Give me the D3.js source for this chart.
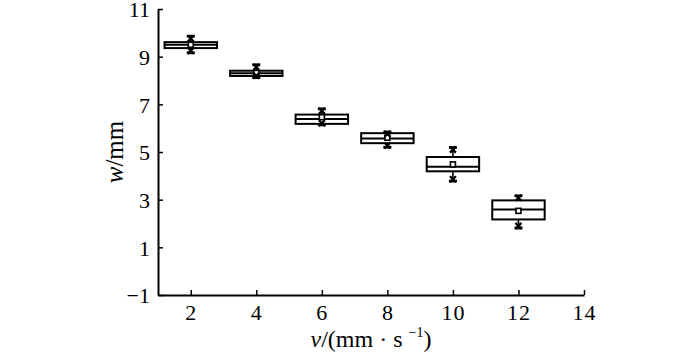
<!DOCTYPE html>
<html>
<head>
<meta charset="utf-8">
<script src="https://cdn.jsdelivr.net/npm/d3@7"></script>
<style>
  body { margin: 0; background: #fff; }
  text { font-family: "Liberation Serif", "Times New Roman", serif; fill: #000; }
</style>
</head>
<body>
<svg id="chart" width="700" height="353"></svg>
<script>
// speed v (mm/s) and groove width w (mm) box stats
const speeds = [2, 4, 6, 8, 10, 12];
const q1 = [9.36, 8.19, 6.18, 5.37, 4.19, 2.17];
const q3 = [9.61, 8.41, 6.57, 5.79, 4.79, 2.97];
const medians = [9.50, 8.30, 6.38, 5.57, 4.38, 2.59];
const means = [9.50, 8.32, 6.46, 5.60, 4.48, 2.53];
const maxs = [9.86, 8.66, 6.81, 5.84, 5.19, 3.16];
const mins = [9.16, 8.12, 6.14, 5.20, 3.78, 1.81];
const p99 = [9.76, 8.57, 6.73, 5.76, 5.10, 3.08];
const p1 = [9.25, 8.20, 6.21, 5.27, 3.86, 1.90];
const xTicks = [2, 4, 6, 8, 10, 12, 14];
const yTicks = [-1, 1, 3, 5, 7, 9, 11];

let svg = d3.select('#chart');
let plot_left = 158, plot_right = 584, plot_top = 9, plot_bottom = 295;
let box_half = 0.8;
let tick_len = 5;

var x = d3.scaleLinear().domain([1, 14]).range([plot_left, plot_right]);
var y = d3.scaleLinear().domain([-1, 11]).range([plot_bottom, plot_top]);

let data = speeds.map((v, i) => ({
    v: v, q1: q1[i], q3: q3[i], med: medians[i], mean: means[i],
    max: maxs[i], min: mins[i], p99: p99[i], p1: p1[i]
}));

// axes
let xAxis = d3.axisBottom(x).tickValues(xTicks).tickSizeInner(-tick_len).tickSizeOuter(0).tickPadding(10)
    .tickFormat(d => d);
let yAxis = d3.axisLeft(y).tickValues(yTicks).tickSizeInner(-tick_len).tickSizeOuter(0).tickPadding(8)
    .tickFormat(d => d < 0 ? '\u2212' + Math.abs(d) : d);

let gx = svg.append('g').attr('transform', 'translate(0,' + plot_bottom + ')').call(xAxis);
let gy = svg.append('g').attr('transform', 'translate(' + plot_left + ',0)').call(yAxis);

[gx, gy].forEach(g => {
    g.select('.domain').attr('stroke', '#000').attr('stroke-width', 2);
    g.selectAll('.tick line').attr('stroke', '#000').attr('stroke-width', 1.5);
    g.selectAll('.tick text').style('font-family', '"Liberation Serif", serif')
        .style('font-size', '22px').attr('fill', '#000');
});
gx.selectAll('.tick text').attr('y', 0).attr('dy', 25).style('letter-spacing', '1px');
gy.selectAll('.tick text').attr('dy', '0.36em');

// boxes
let groups = svg.selectAll('g.box').data(data).enter().append('g').attr('class', 'box');

groups.append('line')
    .attr('x1', d => x(d.v)).attr('x2', d => x(d.v))
    .attr('y1', d => y(d.q3)).attr('y2', d => y(d.max))
    .attr('stroke', '#000').attr('stroke-width', 1.6);
groups.append('line')
    .attr('x1', d => x(d.v)).attr('x2', d => x(d.v))
    .attr('y1', d => y(d.q1)).attr('y2', d => y(d.min))
    .attr('stroke', '#000').attr('stroke-width', 1.6);

groups.append('rect')
    .attr('x', d => x(d.v - box_half))
    .attr('width', d => x(d.v + box_half) - x(d.v - box_half))
    .attr('y', d => y(d.q3))
    .attr('height', d => y(d.q1) - y(d.q3))
    .attr('fill', '#fff').attr('stroke', '#000').attr('stroke-width', 2);

groups.append('line')
    .attr('x1', d => x(d.v - box_half)).attr('x2', d => x(d.v + box_half))
    .attr('y1', d => y(d.med)).attr('y2', d => y(d.med))
    .attr('stroke', '#000').attr('stroke-width', 2);

groups.append('rect')
    .attr('x', d => x(d.v) - 2.5).attr('y', d => y(d.mean) - 2.5)
    .attr('width', 5).attr('height', 5)
    .attr('fill', '#fff').attr('stroke', '#000').attr('stroke-width', 1.6);

// max / min dashes and 1% / 99% crosses
['max', 'min'].forEach(k => {
    groups.append('line')
        .attr('x1', d => x(d.v) - 4).attr('x2', d => x(d.v) + 4)
        .attr('y1', d => y(d[k])).attr('y2', d => y(d[k]))
        .attr('stroke', '#000').attr('stroke-width', 2.8);
});
['p99', 'p1'].forEach(k => {
    groups.append('path')
        .attr('d', d => {
            let cx = x(d.v), cy = y(d[k]), s = 3;
            return 'M' + (cx - s) + ',' + (cy - s) + 'L' + (cx + s) + ',' + (cy + s) +
                'M' + (cx - s) + ',' + (cy + s) + 'L' + (cx + s) + ',' + (cy - s);
        })
        .attr('stroke', '#000').attr('stroke-width', 2.2);
});

// axis titles
let xt = svg.append('text')
    .attr('x', (plot_left + plot_right) / 2).attr('y', 347)
    .attr('text-anchor', 'middle').style('font-size', '24px');
xt.append('tspan').style('font-style', 'italic').text('v');
xt.append('tspan').text('/(mm \u00b7 s ');
xt.append('tspan').attr('dy', -10).style('font-size', '14px').text('\u22121');
xt.append('tspan').attr('dy', 10).text(')');

let yt = svg.append('text')
    .attr('transform', 'translate(123,' + ((plot_top + plot_bottom) / 2) + ') rotate(-90)')
    .attr('text-anchor', 'middle').style('font-size', '25px');
yt.append('tspan').style('font-style', 'italic').text('w');
yt.append('tspan').text('/mm');
</script>
</body>
</html>
